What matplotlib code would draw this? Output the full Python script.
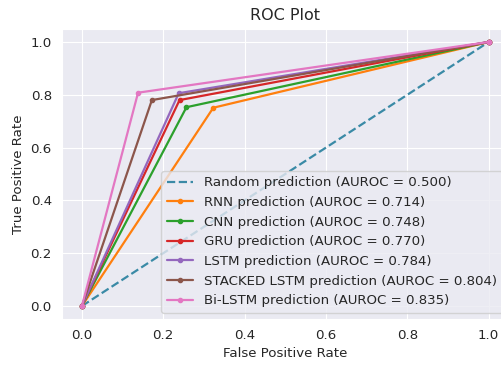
import matplotlib
matplotlib.use('Agg')
import matplotlib.pyplot as plt
import seaborn as sns

sns.set_style('darkgrid')
plt.rcParams['font.family'] = ['DejaVu Sans']

# random baseline
r_fpr = [0.0, 1.0]
r_tpr = [0.0, 1.0]
r_auc = 0.500

models = ['RNN', 'CNN', 'GRU', 'LSTM', 'STACKED LSTM', 'Bi-LSTM']
fprs = [
    [0.0, 0.323, 1.0],
    [0.0, 0.257, 1.0],
    [0.0, 0.240, 1.0],
    [0.0, 0.238, 1.0],
    [0.0, 0.172, 1.0],
    [0.0, 0.138, 1.0],
]
tprs = [
    [0.0, 0.751, 1.0],
    [0.0, 0.753, 1.0],
    [0.0, 0.780, 1.0],
    [0.0, 0.806, 1.0],
    [0.0, 0.780, 1.0],
    [0.0, 0.808, 1.0],
]
aucs = [0.714, 0.748, 0.770, 0.784, 0.804, 0.835]
colors = ['#ff7f0e', '#2ca02c', '#d62728', '#9467bd', '#8c564b', '#e377c2']

fig = plt.figure(figsize=(5.02, 3.65), dpi=100)
ax = fig.add_axes([0.1227, 0.1255, 0.8912, 0.7956])

ax.plot(r_fpr, r_tpr, linestyle='--', color='#3a8aa6', linewidth=1.6,
        label=f'Random prediction (AUROC = {r_auc:.3f})')
for name, fpr, tpr, auc, c in zip(models, fprs, tprs, aucs, colors):
    ax.plot(fpr, tpr, marker='.', color=c, linewidth=1.6,
            label=f'{name} prediction (AUROC = {auc:.3f})')

ax.set_title('ROC Plot', fontsize=11.5)
ax.set_xlabel('False Positive Rate', fontsize=9.6)
ax.set_ylabel('True Positive Rate', fontsize=9.6)
ax.tick_params(labelsize=9.6)
ax.legend(loc='lower right', fontsize=9.6)

fig.savefig('out.png', dpi=100)
